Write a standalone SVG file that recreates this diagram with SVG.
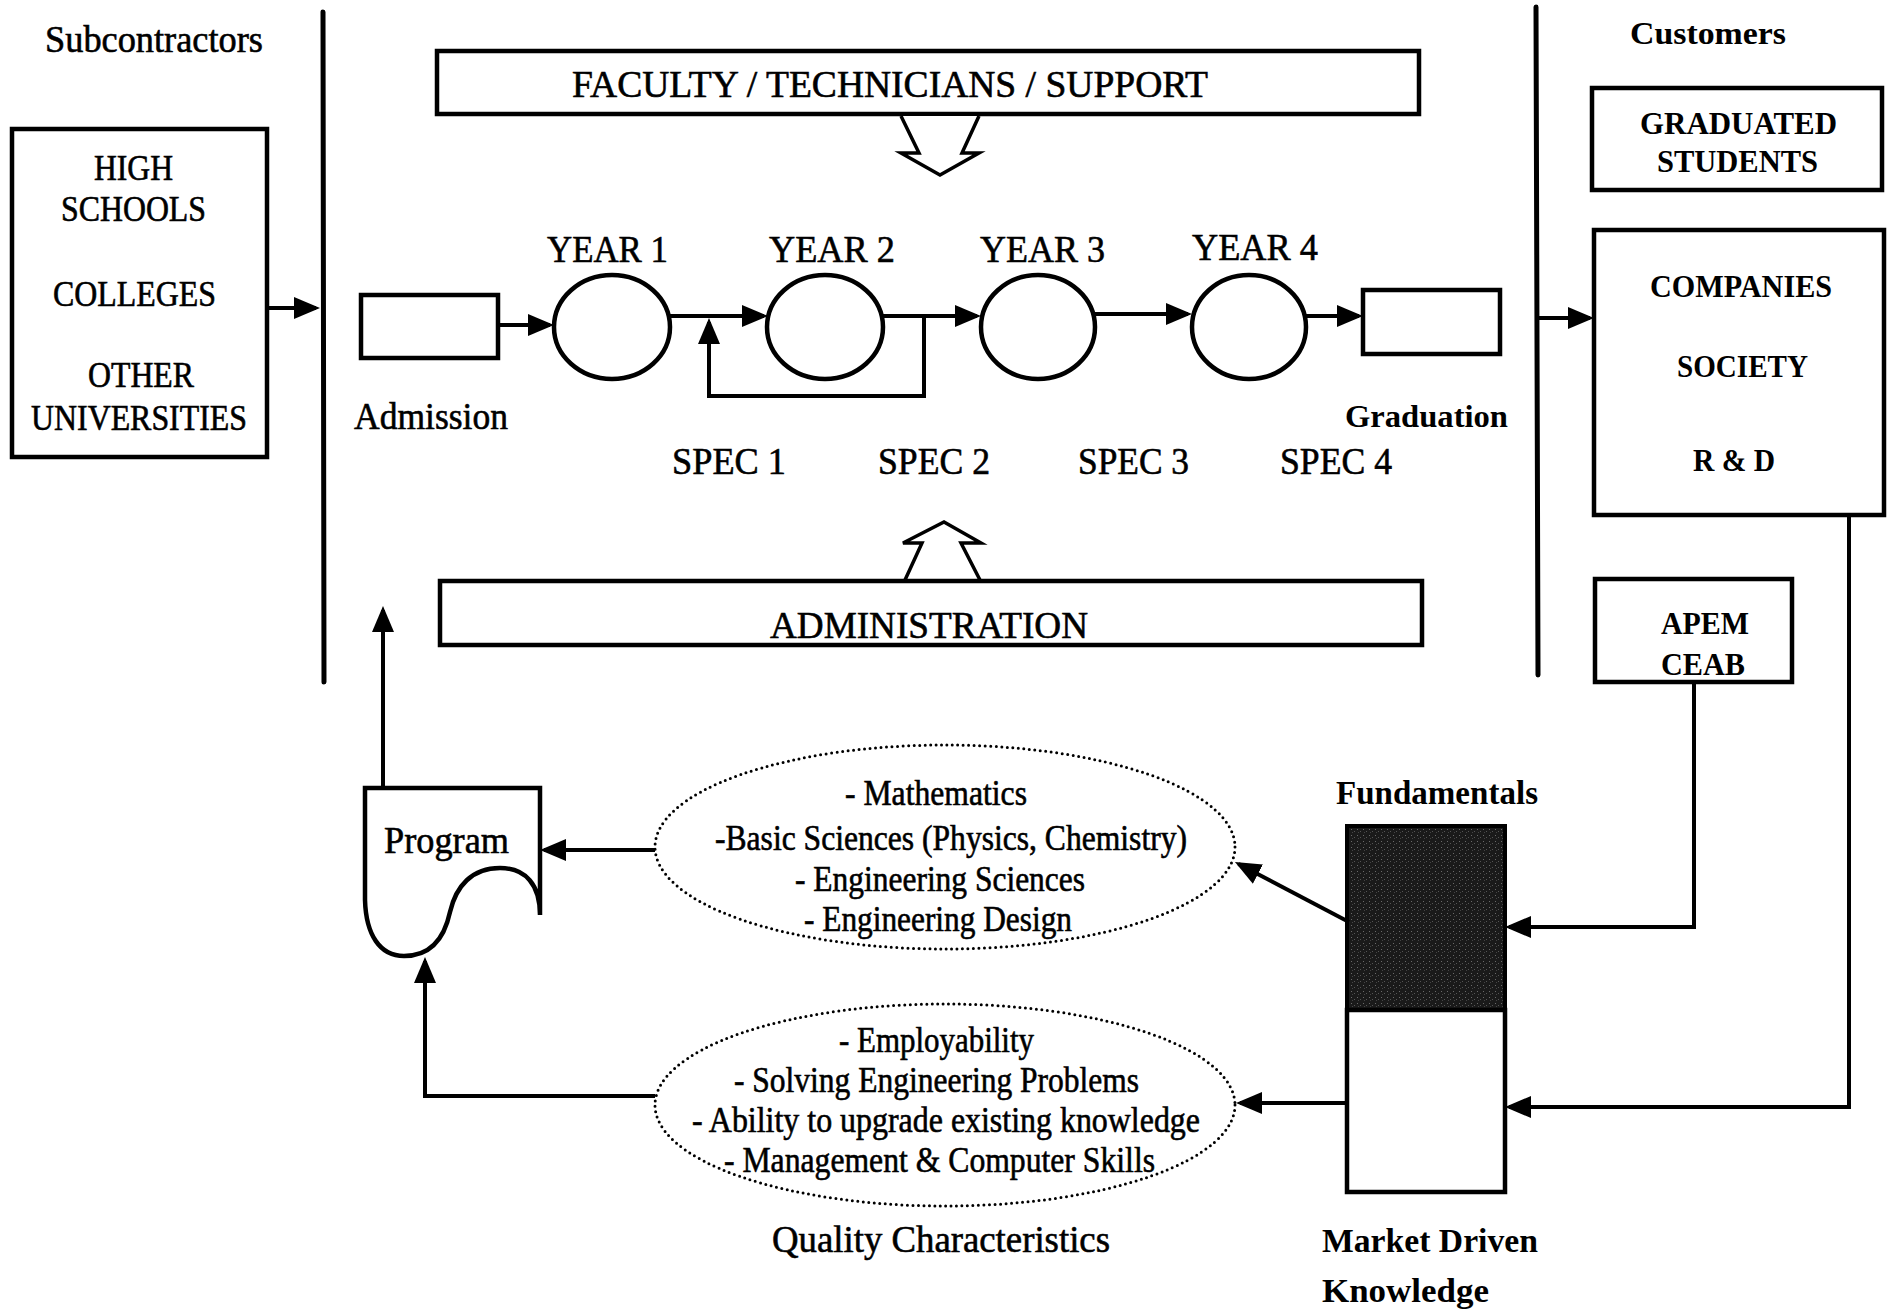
<svg xmlns="http://www.w3.org/2000/svg" width="1891" height="1311" viewBox="0 0 1891 1311">
  <style>
    .t { font-family: "Liberation Serif", "Times New Roman", serif; fill: #000; }
    .r { font-size: 38px; stroke: #000; stroke-width: 0.6; }
    .s { font-size: 35px; stroke: #000; stroke-width: 0.6; }
    .b { font-size: 32px; font-weight: bold; }
    .box { fill: #fff; stroke: #000; stroke-width: 4.5; }
    .ln { fill: none; stroke: #000; stroke-width: 4; }
    .arr { fill: none; stroke: #000; stroke-width: 4; marker-end: url(#ah); }
    .div { fill: none; stroke: #000; stroke-width: 5; stroke-linecap: round; }
    .dots { fill: none; stroke: #000; stroke-width: 3; stroke-dasharray: 0 5.5; stroke-linecap: round; }
    .hollow { fill: #fff; stroke: #000; stroke-width: 3.5; stroke-linejoin: miter; }
  </style>
  <defs>
    <marker id="ah" viewBox="0 0 26 22" refX="22" refY="11" markerWidth="26" markerHeight="22" markerUnits="userSpaceOnUse" orient="auto">
      <path d="M0,0 L26,11 L0,22 Z" fill="#000"/>
    </marker>
    <pattern id="stipple" width="6" height="6" patternUnits="userSpaceOnUse">
      <rect width="6" height="6" fill="#1a1a1a"/>
      <rect x="1" y="1" width="1" height="1" fill="#6a6a6a"/>
      <rect x="4" y="3" width="1" height="1" fill="#555"/>
      <rect x="2" y="4" width="1" height="1" fill="#444"/>
    </pattern>
  </defs>

  <rect width="1891" height="1311" fill="#fff"/>

  <!-- section dividers -->
  <g id="dividers">
    <line class="div" x1="323" y1="12" x2="324" y2="682"/>
    <line class="div" x1="1536" y1="7" x2="1538" y2="675"/>
  </g>

  <!-- section headings -->
  <g id="headings">
    <text class="t r" x="45" y="52" textLength="218" lengthAdjust="spacingAndGlyphs">Subcontractors</text>
    <text class="t b" x="1630" y="44" textLength="156" lengthAdjust="spacingAndGlyphs">Customers</text>
  </g>

  <!-- suppliers -->
  <g id="node-sources">
    <rect class="box" x="12" y="129" width="255" height="328"/>
    <text class="t s" x="94" y="180" textLength="79" lengthAdjust="spacingAndGlyphs">HIGH</text>
    <text class="t s" x="61" y="221" textLength="145" lengthAdjust="spacingAndGlyphs">SCHOOLS</text>
    <text class="t s" x="53" y="306" textLength="163" lengthAdjust="spacingAndGlyphs">COLLEGES</text>
    <text class="t s" x="88" y="387" textLength="106" lengthAdjust="spacingAndGlyphs">OTHER</text>
    <text class="t s" x="31" y="430" textLength="216" lengthAdjust="spacingAndGlyphs">UNIVERSITIES</text>
  </g>

  <!-- staff and administration -->
  <g id="node-faculty">
    <rect class="box" x="437" y="51" width="982" height="63"/>
    <text class="t r" x="572" y="97" textLength="636" lengthAdjust="spacingAndGlyphs">FACULTY / TECHNICIANS / SUPPORT</text>
    <polyline class="hollow" points="901,116 919,153 901,153 940,175 979,153 962,153 979,116"/>
  </g>
  <g id="node-administration">
    <polyline class="hollow" points="905,580 922,543 903,543 944,522 981,543 961,543 980,580"/>
    <rect class="box" x="440" y="581" width="982" height="64"/>
    <text class="t r" x="770" y="638" textLength="318" lengthAdjust="spacingAndGlyphs">ADMINISTRATION</text>
  </g>

  <!-- study path -->
  <g id="node-admission">
    <rect class="box" x="361" y="295" width="137" height="63"/>
    <text class="t r" x="354" y="429" textLength="154" lengthAdjust="spacingAndGlyphs">Admission</text>
  </g>
  <g id="node-year1">
    <ellipse class="box" cx="612" cy="327" rx="58" ry="52"/>
    <text class="t r" x="547" y="262" textLength="121" lengthAdjust="spacingAndGlyphs">YEAR 1</text>
    <text class="t r" x="672" y="474" textLength="114" lengthAdjust="spacingAndGlyphs">SPEC 1</text>
  </g>
  <g id="node-year2">
    <ellipse class="box" cx="825" cy="327" rx="58" ry="52"/>
    <text class="t r" x="769" y="262" textLength="126" lengthAdjust="spacingAndGlyphs">YEAR 2</text>
    <text class="t r" x="878" y="474" textLength="112" lengthAdjust="spacingAndGlyphs">SPEC 2</text>
  </g>
  <g id="node-year3">
    <ellipse class="box" cx="1038" cy="327" rx="57" ry="52"/>
    <text class="t r" x="980" y="262" textLength="125" lengthAdjust="spacingAndGlyphs">YEAR 3</text>
    <text class="t r" x="1078" y="474" textLength="111" lengthAdjust="spacingAndGlyphs">SPEC 3</text>
  </g>
  <g id="node-year4">
    <ellipse class="box" cx="1249" cy="327" rx="57" ry="52"/>
    <text class="t r" x="1192" y="260" textLength="126" lengthAdjust="spacingAndGlyphs">YEAR 4</text>
    <text class="t r" x="1280" y="474" textLength="112" lengthAdjust="spacingAndGlyphs">SPEC 4</text>
  </g>
  <g id="node-graduation">
    <rect class="box" x="1363" y="290" width="137" height="64"/>
    <text class="t b" x="1345" y="427" textLength="163" lengthAdjust="spacingAndGlyphs">Graduation</text>
  </g>

  <!-- customers -->
  <g id="node-graduated-students">
    <rect class="box" x="1592" y="88" width="290" height="102"/>
    <text class="t b" x="1640" y="134" textLength="197" lengthAdjust="spacingAndGlyphs">GRADUATED</text>
    <text class="t b" x="1657" y="172" textLength="161" lengthAdjust="spacingAndGlyphs">STUDENTS</text>
  </g>
  <g id="node-companies">
    <rect class="box" x="1594" y="230" width="290" height="285"/>
    <text class="t b" x="1650" y="297" textLength="182" lengthAdjust="spacingAndGlyphs">COMPANIES</text>
    <text class="t b" x="1677" y="377" textLength="131" lengthAdjust="spacingAndGlyphs">SOCIETY</text>
    <text class="t b" x="1693" y="471" textLength="82" lengthAdjust="spacingAndGlyphs">R &amp; D</text>
  </g>
  <g id="node-apem">
    <rect class="box" x="1595" y="579" width="197" height="103"/>
    <text class="t b" x="1661" y="634" textLength="88" lengthAdjust="spacingAndGlyphs">APEM</text>
    <text class="t b" x="1661" y="675" textLength="84" lengthAdjust="spacingAndGlyphs">CEAB</text>
  </g>

  <!-- knowledge column -->
  <g id="node-knowledge">
    <text class="t b" x="1336" y="804" textLength="202" lengthAdjust="spacingAndGlyphs" style="font-size:34px">Fundamentals</text>
    <rect x="1347" y="826" width="158" height="184" fill="url(#stipple)" stroke="#000" stroke-width="4"/>
    <rect class="box" x="1347" y="1010" width="158" height="182"/>
    <text class="t b" x="1322" y="1252" textLength="216" lengthAdjust="spacingAndGlyphs" style="font-size:34px">Market Driven</text>
    <text class="t b" x="1322" y="1302" textLength="167" lengthAdjust="spacingAndGlyphs" style="font-size:34px">Knowledge</text>
  </g>

  <!-- curriculum content -->
  <g id="node-fundamentals-topics">
    <ellipse class="dots" cx="945" cy="847" rx="290" ry="102"/>
    <text class="t s" x="845" y="805" textLength="182" lengthAdjust="spacingAndGlyphs">- Mathematics</text>
    <text class="t s" x="715" y="850" textLength="472" lengthAdjust="spacingAndGlyphs">-Basic Sciences (Physics, Chemistry)</text>
    <text class="t s" x="795" y="891" textLength="290" lengthAdjust="spacingAndGlyphs">- Engineering Sciences</text>
    <text class="t s" x="804" y="931" textLength="268" lengthAdjust="spacingAndGlyphs">- Engineering Design</text>
  </g>
  <g id="node-quality">
    <ellipse class="dots" cx="945" cy="1105" rx="290" ry="101"/>
    <text class="t s" x="839" y="1052" textLength="195" lengthAdjust="spacingAndGlyphs">- Employability</text>
    <text class="t s" x="734" y="1092" textLength="405" lengthAdjust="spacingAndGlyphs">- Solving Engineering Problems</text>
    <text class="t s" x="692" y="1132" textLength="508" lengthAdjust="spacingAndGlyphs">- Ability to upgrade existing knowledge</text>
    <text class="t s" x="724" y="1172" textLength="431" lengthAdjust="spacingAndGlyphs">- Management &amp; Computer Skills</text>
    <text class="t r" x="772" y="1252" textLength="338" lengthAdjust="spacingAndGlyphs">Quality Characteristics</text>
  </g>

  <!-- program document -->
  <g id="node-program">
    <path class="box" d="M365,788 L540,788 L540,915 C540,885 526,868 500,868 C472,868 456,886 450,912 C444,940 429,956 404,956 C380,956 366,935 365,900 Z"/>
    <text class="t r" x="384" y="853" textLength="125" lengthAdjust="spacingAndGlyphs">Program</text>
  </g>

  <!-- connectors -->
  <g id="connectors">
    <line class="arr" x1="267" y1="308" x2="316" y2="308"/>
    <line class="arr" x1="498" y1="325" x2="550" y2="325"/>
    <line class="arr" x1="669" y1="316" x2="764" y2="316"/>
    <line class="arr" x1="882" y1="316" x2="977" y2="316"/>
    <line class="arr" x1="1095" y1="314" x2="1188" y2="314"/>
    <line class="arr" x1="1306" y1="316" x2="1359" y2="316"/>
    <polyline class="arr" points="924,316 924,396 709,396 709,322"/>
    <line class="arr" x1="1538" y1="318" x2="1590" y2="318"/>
    <polyline class="arr" points="1694,682 1694,927 1509,927"/>
    <polyline class="arr" points="1849,515 1849,1107 1509,1107"/>
    <line class="arr" x1="1349" y1="922" x2="1238.5" y2="863.9"/>
    <line class="arr" x1="1347" y1="1103" x2="1240" y2="1103"/>
    <line class="arr" x1="655" y1="850" x2="544" y2="850"/>
    <polyline class="arr" points="655,1096 425,1096 425,961"/>
    <line class="arr" x1="383" y1="788" x2="383" y2="610"/>
  </g>
</svg>
